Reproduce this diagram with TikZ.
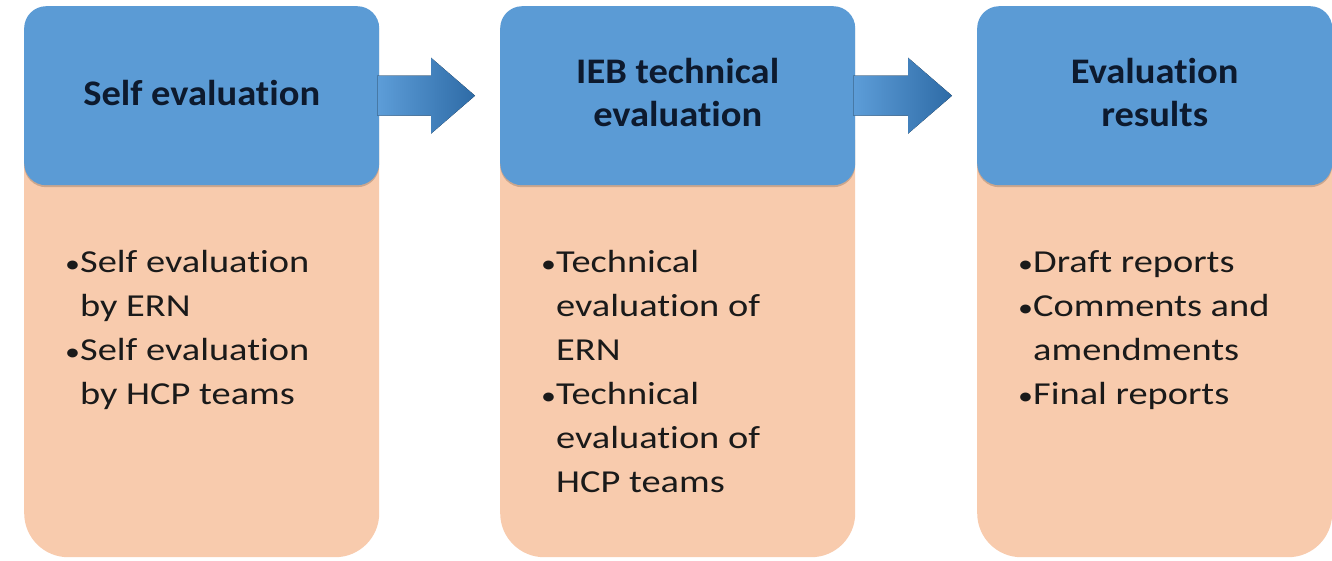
\documentclass[tikz,border=0pt]{standalone}
\usepackage{fontspec}
\setmainfont{Carlito}
\newfontfamily\bodyfont[FakeStretch=1.2,Ligatures=NoCommon]{Carlito}
\newfontfamily\headfont[FakeStretch=1.07,Ligatures=NoCommon]{Carlito}
\usetikzlibrary{calc,shadows}
\definecolor{hblue}{HTML}{5B9BD5}
\definecolor{peach}{HTML}{F8CBAD}
\definecolor{navy}{HTML}{0D1A2E}
\definecolor{bodyink}{HTML}{1A1A1A}
\definecolor{arrowlight}{HTML}{5D9DD8}
\definecolor{arrowdark}{HTML}{2E6BA6}
\newcommand{\itm}[1]{\makebox[15pt][l]{\fontsize{25}{25}\selectfont •}#1}
\newcommand{\cnt}[1]{\hspace*{15pt}#1}
\begin{document}
\begin{tikzpicture}[x=1pt,y=-1pt,
  peachbox/.style={fill=peach, rounded corners=44pt, minimum width=355pt, minimum height=457pt, anchor=north west, inner sep=0pt},
  headbox/.style={fill=hblue, rounded corners=22pt, minimum width=355pt, minimum height=179pt, anchor=north west, inner sep=0pt,
     drop shadow={shadow xshift=0pt, shadow yshift=-2pt, opacity=0.18, fill=black}},
  headtext/.style={inner sep=0pt, font=\headfont\bfseries\fontsize{36}{43}\selectfont, text=navy, align=center},
  bodytext/.style={anchor=north west, inner sep=0pt, align=left, text=bodyink, font=\bodyfont\fontsize{32}{44}\selectfont},
  arrowshade/.style={left color=arrowlight, right color=arrowdark}
]
\useasboundingbox[fill=white] (0,0) rectangle (1332,560);

\node[peachbox] (p1) at (24,100) {};
\node[peachbox] (p2) at (500,100) {};
\node[peachbox] (p3) at (977,100) {};

\node[headbox] (h1) at (24,6) {};
\node[headbox] (h2) at (500,6) {};
\node[headbox] (h3) at (977,6) {};

\node[headtext] (l1) at ($(h1.center)+(0,-3)$) {Self evaluation};
\node[headtext] (l2) at ($(h2.center)+(0,-3)$) {IEB technical\\evaluation};
\node[headtext] (l3) at ($(h3.center)+(0,-3)$) {Evaluation\\results};

\node[bodytext] (t1) at (65,250.5) {\itm{Self evaluation}\\\cnt{by ERN}\\\itm{Self evaluation}\\\cnt{by HCP teams}};
\node[bodytext] (t2) at (541,250.5) {\itm{Technical}\\\cnt{evaluation of}\\\cnt{ERN}\\\itm{Technical}\\\cnt{evaluation of}\\\cnt{HCP teams}};
\node[bodytext] (t3) at (1018,250.5) {\itm{Draft reports}\\\itm{Comments and}\\\cnt{amendments}\\\itm{Final reports}};

\coordinate (a1tip) at ($(h2.west)+(-25,0)$);
\coordinate (a2tip) at ($(h3.west)+(-25,0)$);
\fill[arrowshade] ($(h1.east)+(-2,-20)$) -- ($(a1tip)+(-44,-20)$) -- ($(a1tip)+(-44,-38)$) -- (a1tip) -- ($(a1tip)+(-44,38)$) -- ($(a1tip)+(-44,20)$) -- ($(h1.east)+(-2,20)$) -- cycle;
\fill[arrowshade] ($(h2.east)+(-2,-20)$) -- ($(a2tip)+(-44,-20)$) -- ($(a2tip)+(-44,-38)$) -- (a2tip) -- ($(a2tip)+(-44,38)$) -- ($(a2tip)+(-44,20)$) -- ($(h2.east)+(-2,20)$) -- cycle;
\end{tikzpicture}
\end{document}
